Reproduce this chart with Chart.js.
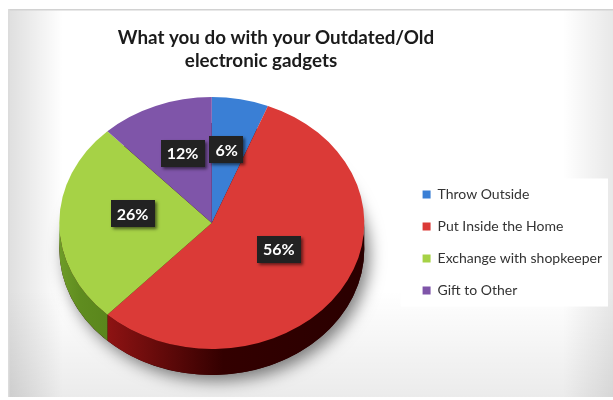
<!DOCTYPE html>
<html>
<head>
<meta charset="utf-8">
<title>Outdated electronic gadgets</title>
<script src="https://cdn.jsdelivr.net/npm/chart.js@4.4.1/dist/chart.umd.min.js"></script>
<style>
  html, body { margin: 0; padding: 0; background: #fff; }
  #wrap { position: relative; width: 613px; height: 400px; }
</style>
</head>
<body>
<div id="wrap"><canvas id="gadgetsChart" width="613" height="400"></canvas></div>
<script>
// Survey answers
const categories = ['Throw Outside', 'Put Inside the Home', 'Exchange with shopkeeper', 'Gift to Other'];
const shares = [6, 56, 26, 12];
const titleLines = ['What you do with your Outdated/Old', 'electronic gadgets'];

// Slice colours (top face) and side wall gradients [left, middle, right]
const sliceColors = ['#3a7fd5', '#db3a37', '#a6d246', '#7f55a9'];
const sideColors = [
    ['#24528e', '#1a3d6b', '#163560'],
    ['#8e1313', '#330000', '#2a0000'],
    ['#6e9c28', '#5f8c1f', '#5a861c'],
    ['#50306e', '#3e2556', '#36204b']
];

const TILT = 0.826;   // vertical squash of the pie
const DEPTH = 26;     // thickness of the pie in px

// Panel background, legend box and title
const backdrop = {
    id: 'backdrop',
    beforeDraw(chart) {
        const ctx = chart.ctx;
        const W = chart.width, H = chart.height;
        ctx.save();
        ctx.fillStyle = '#fff';
        ctx.fillRect(0, 0, W, H);

        const x0 = 8, y0 = 9, x1 = W, y1 = 397;
        let g = ctx.createLinearGradient(x0, 0, x1, 0);
        g.addColorStop(0, 'rgba(0,0,0,0.13)');
        g.addColorStop(55 / (x1 - x0), 'rgba(0,0,0,0)');
        g.addColorStop(555 / (x1 - x0), 'rgba(0,0,0,0)');
        g.addColorStop(1, 'rgba(0,0,0,0.09)');
        ctx.fillStyle = g;
        ctx.fillRect(x0, y0, x1 - x0, y1 - y0);

        g = ctx.createLinearGradient(0, 290, 0, y1);
        g.addColorStop(0, 'rgba(0,0,0,0)');
        g.addColorStop(1, 'rgba(0,0,0,0.08)');
        ctx.fillStyle = g;
        ctx.fillRect(x0, 290, x1 - x0, y1 - 290);

        ctx.fillStyle = '#d2d2d2';
        ctx.fillRect(x0, y0, x1 - x0, 1.5);
        ctx.fillStyle = '#dcdcdc';
        ctx.fillRect(x0, y0, 1.5, y1 - y0);

        // white plate behind the legend
        const legend = chart.legend;
        if (legend && legend.legendHitBoxes.length) {
            const boxes = legend.legendHitBoxes;
            const top = boxes[0].top - 9;
            const bottom = boxes[boxes.length - 1].top + boxes[boxes.length - 1].height + 9;
            ctx.fillStyle = '#fff';
            ctx.fillRect(legend.left - 4, top, W - 5 - (legend.left - 4), bottom - top);
        }

        ctx.fillStyle = '#1b1b1b';
        ctx.font = 'bold 18.8px Lato';
        ctx.textAlign = 'center';
        ctx.textBaseline = 'middle';
        ctx.fillText(titleLines[0], 276, 38);
        ctx.fillText(titleLines[1], 261, 61);
        ctx.restore();
    }
};

// Tilted pie: shadow and side walls first, then squash the top face
const tiltedPie = {
    id: 'tiltedPie',
    beforeDatasetsDraw(chart) {
        const ctx = chart.ctx;
        const arcs = chart.getDatasetMeta(0).data;
        const {x: cx, y: cy, outerRadius: r} = arcs[0].getProps(['x', 'y', 'outerRadius'], true);
        const ry = r * TILT;

        ctx.save();
        ctx.shadowColor = 'rgba(0,0,0,0.5)';
        ctx.shadowBlur = 16;
        ctx.shadowOffsetX = 5;
        ctx.shadowOffsetY = 6;
        ctx.fillStyle = '#2a0000';
        ctx.beginPath();
        ctx.ellipse(cx, cy + DEPTH, r, ry, 0, 0, Math.PI * 2);
        ctx.fill();
        ctx.restore();

        arcs.forEach((arc, i) => {
            const {startAngle, endAngle} = arc.getProps(['startAngle', 'endAngle'], true);
            const s = Math.max(startAngle, 0);
            const e = Math.min(endAngle, Math.PI);
            if (s >= e) return;
            const xa = cx + r * Math.cos(e);
            const xb = cx + r * Math.cos(s);
            const g = ctx.createLinearGradient(Math.min(xa, xb), 0, Math.max(xa, xb), 0);
            g.addColorStop(0, sideColors[i][0]);
            g.addColorStop(0.45, sideColors[i][1]);
            g.addColorStop(1, sideColors[i][2]);
            ctx.fillStyle = g;
            ctx.beginPath();
            ctx.ellipse(cx, cy, r, ry, 0, s, e);
            ctx.ellipse(cx, cy + DEPTH, r, ry, 0, e, s, true);
            ctx.closePath();
            ctx.fill();
        });

        ctx.save();
        ctx.translate(cx, cy);
        ctx.scale(1, TILT);
        ctx.translate(-cx, -cy);
    },
    afterDatasetsDraw(chart) {
        const ctx = chart.ctx;
        ctx.restore();

        // value boxes
        const arcs = chart.getDatasetMeta(0).data;
        const values = chart.data.datasets[0].data;
        ctx.save();
        ctx.font = 'bold 16px Lato';
        ctx.textAlign = 'center';
        ctx.textBaseline = 'middle';
        arcs.forEach((arc, i) => {
            const {x, y, startAngle, endAngle, outerRadius} =
                arc.getProps(['x', 'y', 'startAngle', 'endAngle', 'outerRadius'], true);
            const mid = (startAngle + endAngle) / 2;
            const lx = x + Math.cos(mid) * outerRadius * 0.52;
            const ly = y + Math.sin(mid) * outerRadius * TILT * 0.52 - 9;
            const text = values[i] + '%';
            const w = ctx.measureText(text).width + 12;
            const h = 27;
            ctx.shadowColor = 'rgba(0,0,0,0.55)';
            ctx.shadowBlur = 3;
            ctx.shadowOffsetX = 2;
            ctx.shadowOffsetY = 2;
            ctx.fillStyle = '#222';
            ctx.fillRect(Math.round(lx - w / 2), Math.round(ly - h / 2), Math.round(w), h);
            ctx.shadowColor = 'transparent';
            ctx.fillStyle = '#fff';
            ctx.fillText(text, lx, ly + 1);
        });
        ctx.restore();
    }
};

const ctx = document.getElementById('gadgetsChart').getContext('2d');
new Chart(ctx, {
    type: 'pie',
    data: {
        labels: categories,
        datasets: [{
            data: shares,
            backgroundColor: sliceColors,
            borderWidth: 0,
            hoverOffset: 0,
            clip: false
        }]
    },
    options: {
        responsive: false,
        animation: false,
        events: [],
        layout: { padding: { left: 19, right: 1, top: 70.5, bottom: 24.5 } },
        plugins: {
            title: { display: false },
            tooltip: { enabled: false },
            legend: {
                position: 'right',
                fullSize: false,
                title: { display: true, text: '', font: { size: 10, lineHeight: 1 }, padding: { top: 29, bottom: 0 } },
                labels: {
                    boxWidth: 8,
                    boxHeight: 8,
                    padding: 18,
                    color: '#333',
                    font: { family: 'Lato', size: 14 }
                }
            }
        }
    },
    plugins: [backdrop, tiltedPie]
});
</script>
</body>
</html>
